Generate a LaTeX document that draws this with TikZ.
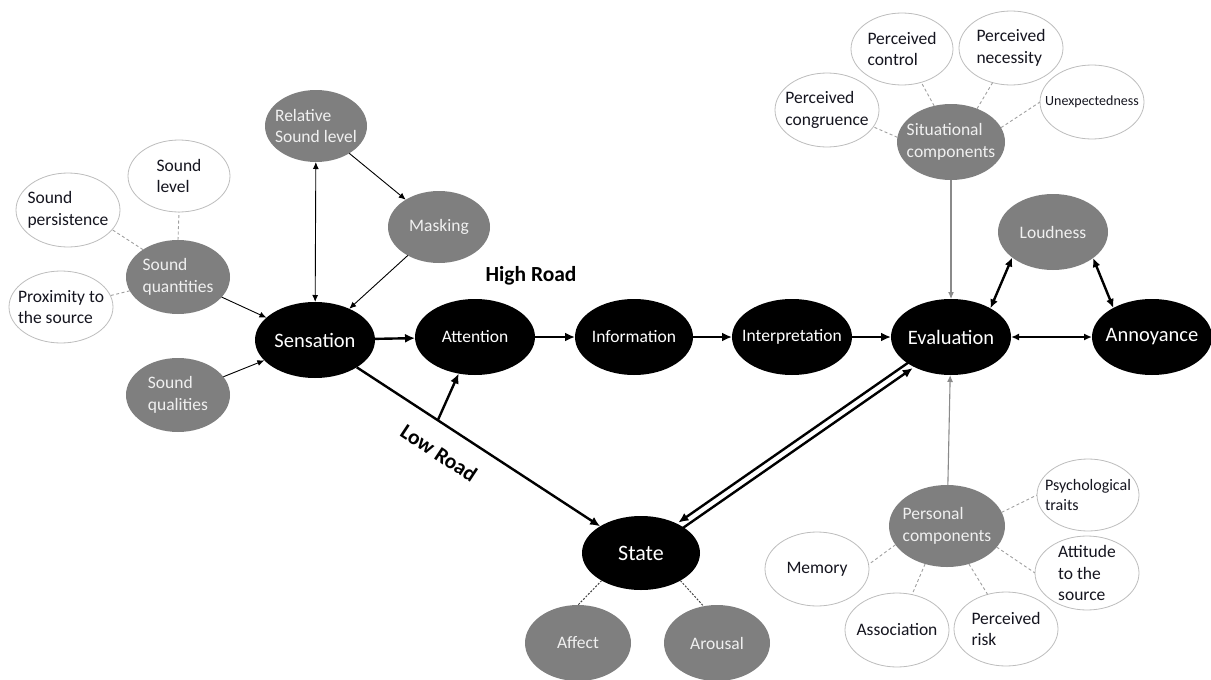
\documentclass[tikz,border=0pt]{standalone}
\usepackage{fontspec}
\setmainfont{Carlito}
\usetikzlibrary{shapes.geometric,arrows.meta,calc}
\definecolor{nodegray}{HTML}{7F7F7F}
\definecolor{rimgray}{HTML}{BDBDBD}
\definecolor{dashgray}{HTML}{A0A0A0}
\definecolor{lighttext}{HTML}{F0F0F0}
\definecolor{darktext}{HTML}{15151F}
\definecolor{linegray}{HTML}{8A8A8A}
\begin{document}
\begin{tikzpicture}[x=1pt,y=-1pt,
  base/.style={ellipse, inner sep=0pt, outer sep=0pt},
  sz/.style 2 args={minimum width=#1pt, minimum height=#2pt},
  blk/.style={base, fill=black},
  gry/.style={base, fill=nodegray},
  wht/.style={base, fill=white, draw=rimgray, line width=0.8pt},
  bt/.style={text=white, align=center},
  gt/.style={text=lighttext, align=left},
  wt/.style={text=darktext, align=left},
  fbig/.style={font=\fontsize{20.5}{24}\selectfont},
  fmid/.style={font=\fontsize{17.5}{21.5}\selectfont},
  fsml/.style={font=\fontsize{16}{19.5}\selectfont},
  ftiny/.style={font=\fontsize{14}{17}\selectfont},
  thinarr/.style={line width=0.9pt, -{Latex[length=7pt,width=6pt]}},
  thinboth/.style={line width=0.9pt, {Latex[length=7pt,width=6pt]}-{Latex[length=7pt,width=6pt]}},
  thickarr/.style={line width=2.4pt, -{Latex[length=10pt,width=9pt]}},
  thickboth/.style={line width=2.4pt, {Latex[length=9pt,width=8pt]}-{Latex[length=9pt,width=8pt]}},
  medboth/.style={line width=1.8pt, {Latex[length=8pt,width=7pt]}-{Latex[length=8pt,width=7pt]}},
  grayarr/.style={line width=1.1pt, draw=linegray, -{Latex[length=7pt,width=6pt]}, color=linegray},
  dsh/.style={line width=0.9pt, draw=dashgray, dash pattern=on 3pt off 2.5pt},
  dotd/.style={line width=1pt, draw=black!75, dash pattern=on 2pt off 1.5pt},
  roadlbl/.style={font=\bfseries\fontsize{21.5}{24}\selectfont, text=black},
]
\useasboundingbox (0,0) rectangle (1211,680);

% main black nodes
\node[blk, sz={120}{76}, label={[bt,fbig]center:Sensation}] (sens) at (315,340) {};
\node[blk, sz={120}{76}, label={[bt,fmid]center:Attention}] (att) at (475,337) {};
\node[blk, sz={118}{76}, label={[bt,fmid]center:Information}] (inf) at (634,337) {};
\node[blk, sz={120}{76}, label={[bt,fmid]center:Interpretation}] (intp) at (792,337) {};
\node[blk, sz={120}{76}, label={[bt,fbig]center:Evaluation}] (eval) at (951,337) {};
\node[blk, sz={120}{76}, label={[bt,fbig]center:Annoyance}] (ann) at (1152,337) {};
\node[blk, sz={118}{74}, label={[bt,font=\fontsize{22}{26}\selectfont]center:State}] (state) at (641,553) {};

% gray nodes
\node[gry, sz={110}{76}, label={[gt,fmid]center:Loudness}] (loud) at (1053,232) {};
\node[gry, sz={102}{72}, label={[gt,fmid]center:{Relative\\Sound level}}] (rsl) at (316,126) {};
\node[gry, sz={102}{72}, label={[gt,fmid]center:Masking}] (mask) at (439,227) {};
\node[gry, sz={104}{74}, label={[gt,fmid]center:{Sound\\quantities}}] (sq) at (178,277) {};
\node[gry, sz={104}{74}, label={[gt,fmid]center:{Sound\\qualities}}] (squal) at (178,395) {};
\node[gry, sz={108}{76}, label={[gt,fmid]center:{Situational\\components}}] (sit) at (951,142) {};
\node[gry, sz={116}{82}, label={[gt,fmid]center:{Personal\\components}}] (pers) at (947,526) {};
\node[gry, sz={106}{76}, label={[gt,fmid]center:Affect}] (aff) at (578,643) {};
\node[gry, sz={106}{76}, label={[gt,fmid]center:Arousal}] (aro) at (717,643) {};

% white nodes
\node[wht, sz={102}{72}, label={[wt,fmid]center:{Sound\\level}}] (slev) at (179,176) {};
\node[wht, sz={104}{74}, label={[wt,fmid]center:{Sound\\persistence}}] (spers) at (68,210) {};
\node[wht, sz={104}{72}, label={[wt,fmid]center:{Proximity to\\the source}}] (prox) at (61,307) {};
\node[wht, sz={104}{74}, label={[wt,fmid]center:{Perceived\\congruence}}] (pcong) at (827,110) {};
\node[wht, sz={102}{72}, label={[wt,fmid]center:{Perceived\\control}}] (pctrl) at (902,49) {};
\node[wht, sz={104}{74}, label={[wt,fmid]center:{Perceived\\necessity}}] (pnec) at (1011,48) {};
\node[wht, sz={104}{74}, label={[wt,ftiny]center:Unexpectedness}] (unex) at (1092,102) {};
\node[wht, sz={102}{72}, label={[wt,fsml]center:{Psychological\\traits}}] (psy) at (1088,495) {};
\node[wht, sz={104}{74}, label={[wt,fmid]center:{Attitude\\to the\\source}}] (atts) at (1087,573) {};
\node[wht, sz={104}{74}, label={[wt,fmid]center:Memory}] (mem) at (817,569) {};
\node[wht, sz={104}{74}, label={[wt,fmid]center:Association}] (assoc) at (897,630) {};
\node[wht, sz={104}{74}, label={[wt,fmid]center:{Perceived\\risk}}] (risk) at (1006,629) {};

% road labels
\node[roadlbl] (hr) at (531,276) {High Road};
\node[roadlbl, rotate=-33.5] (lrl) at (439,453) {Low Road};

% left inputs
\draw[thinarr] (sq) -- (sens);
\draw[thinarr] (squal) -- (sens);
\draw[thinboth] (rsl) -- (sens);
\draw[thinarr] (rsl) -- (mask);
\draw[thinarr] (mask) -- (sens);

% high road
\draw[thickarr] (sens) -- (att);
\draw[thickarr] (att) -- (inf);
\draw[thickarr] (inf) -- (intp);
\draw[thickarr] (intp) -- (eval);

% low road
\draw[thickarr] (sens) -- coordinate[pos=0.333] (lrp) (state);
\draw[thickarr] (lrp) -- (att);

% state <-> evaluation
\draw[thickarr] ([shift={(-2pt,2.9pt)}]eval.215) -- ([shift={(-2pt,2.9pt)}]state.35);
\draw[thickarr] ([shift={(2pt,-2.9pt)}]state.35) -- ([shift={(2pt,-2.9pt)}]eval.215);

% evaluation / loudness / annoyance
\draw[medboth] (eval) -- (ann);
\draw[thickboth] (loud.212) -- (eval.36);
\draw[thickboth] (loud.327) -- (ann.143);

% components into evaluation
\draw[grayarr] (sit) -- (eval);
\draw[grayarr] (pers) -- (eval);

% dashed links
\draw[dsh] (sq.90) -- (slev.270);
\draw[dsh] (sq.142) -- (spers.336);
\draw[dsh] (sq.196) -- (prox.13);
\draw[dsh] (sit.175) -- (pcong.340);
\draw[dsh] (sit.115) -- (pctrl.300);
\draw[dsh] (sit.52) -- (pnec.242);
\draw[dsh] (sit.16) -- (unex.180);
\draw[dsh] (pers.14) -- (psy.180);
\draw[dsh] (pers.337) -- (atts.180);
\draw[dsh] (pers.300) -- (risk.118);
\draw[dsh] (pers.240) -- (assoc.67);
\draw[dsh] (pers.200) -- (mem.5);
\draw[dotd] (state.215) -- (aff.90);
\draw[dotd] (state.325) -- (aro.110);
\end{tikzpicture}
\end{document}
